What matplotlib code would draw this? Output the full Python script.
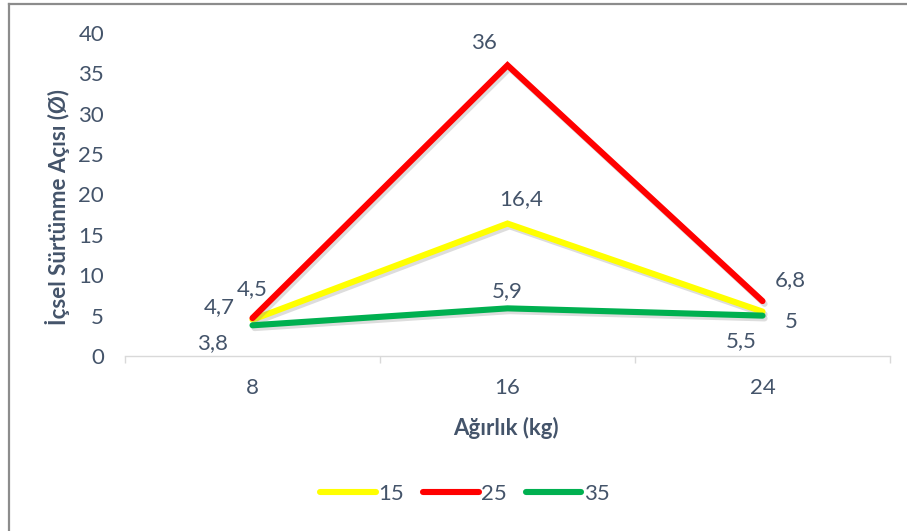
import matplotlib
matplotlib.use("Agg")
import matplotlib.pyplot as plt
import matplotlib.patheffects as pe
from matplotlib.lines import Line2D

# Data
categories = ["8", "16", "24"]
series_names = ["15", "25", "35"]
values_15 = [4.5, 16.4, 5.5]
values_25 = [4.7, 36.0, 6.8]
values_35 = [3.8, 5.9, 5.0]
y_ticks = [0, 5, 10, 15, 20, 25, 30, 35, 40]

colors = ["#FFFF00", "#FF0000", "#00B050"]
text_color = "#44546A"
FS = 16

W, H, DPI = 907, 531, 100
plt.rcParams["font.family"] = ["Lato", "DejaVu Sans"]

fig = plt.figure(figsize=(W / DPI, H / DPI), dpi=DPI)
fig.patch.set_facecolor("white")

def fx(px):
    return px / W

def fy(py):
    return 1 - py / H

ax = fig.add_axes([fx(125), fy(356), fx(890) - fx(125), fy(33) - fy(356)])
x = list(range(len(categories)))

shadow = [pe.SimpleLineShadow(offset=(1.5, -2.0), shadow_color="#8F8F8F", alpha=0.3),
          pe.Normal()]

all_values = [values_15, values_25, values_35]
for name, vals, col in zip(series_names, all_values, colors):
    ax.plot(x, vals, color=col, lw=4.4, solid_capstyle="round",
            solid_joinstyle="miter", label=name, path_effects=shadow)

ax.set_xlim(-0.5, 2.5)
ax.set_ylim(0, 40)
ax.set_yticks(y_ticks)
ax.set_yticklabels([str(t) for t in y_ticks])
ax.set_xticks(x)
ax.set_xticklabels(categories)
ax.set_xticks([-0.5, 0.5, 1.5, 2.5], minor=True)

for s in ["top", "right", "left"]:
    ax.spines[s].set_visible(False)
ax.spines["bottom"].set_color("#D9D9D9")
ax.spines["bottom"].set_linewidth(1.0)

ax.tick_params(axis="y", length=0, pad=15, labelsize=FS, labelcolor=text_color)
ax.tick_params(axis="x", which="major", length=0, pad=16, labelsize=FS,
               labelcolor=text_color)
ax.tick_params(axis="x", which="minor", length=5, width=1.0, color="#D9D9D9")

# Data labels (offsets in pixels: right, down)
label_offsets = [
    [(0, -31), (14, -24), (-21, 30)],
    [(-33, -11), (-24, -22), (28, -21)],
    [(-40, 18), (0, -17), (29, 6)],
]
for vals, offs in zip(all_values, label_offsets):
    for xi, v, (dx, dy) in zip(x, vals, offs):
        txt = f"{v:g}".replace(".", ",")
        ax.annotate(txt, (xi, v), xytext=(dx * 0.72, -dy * 0.72),
                    textcoords="offset points", ha="center", va="center",
                    fontsize=FS, color=text_color)

fig.text(fx(58), fy(207), "İçsel Sürtünme Açısı (Ø)", rotation=90,
         ha="center", va="center", fontsize=FS, fontweight="bold", color=text_color)
fig.text(fx(506), fy(428), "Ağırlık (kg)", ha="center", va="center",
         fontsize=FS, fontweight="bold", color=text_color)

leg = fig.legend(loc="center", bbox_to_anchor=(fx(465), fy(494)), ncol=3,
                 frameon=False, fontsize=FS, handlelength=2.5,
                 handletextpad=0.12, columnspacing=0.85)
for t in leg.get_texts():
    t.set_color(text_color)
for h in leg.legend_handles:
    h.set_path_effects([])
    h.set_solid_capstyle("round")

# Outer frame: left and top edges
fig.add_artist(Line2D([fx(9), fx(9)], [0, fy(4)], transform=fig.transFigure,
                      color="#8C8C8C", lw=1.6))
fig.add_artist(Line2D([fx(9), 1], [fy(4), fy(4)], transform=fig.transFigure,
                      color="#8C8C8C", lw=1.6))

fig.savefig("out.png", dpi=DPI, facecolor="white")
